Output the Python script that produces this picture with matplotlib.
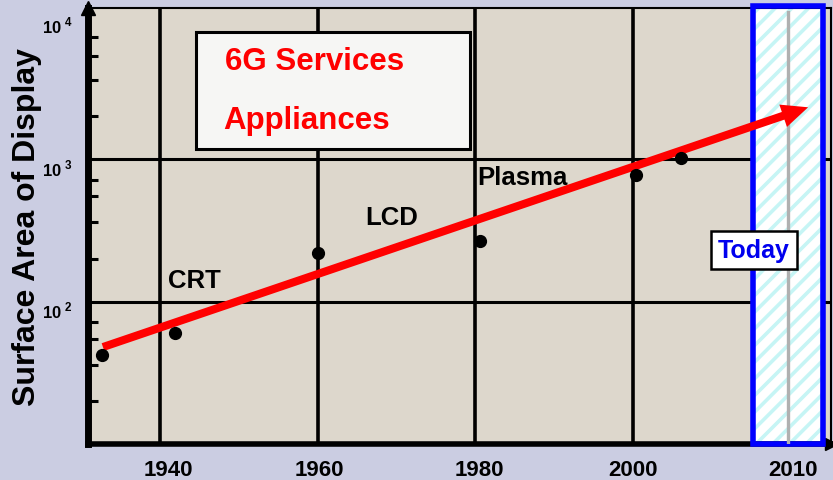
import matplotlib.pyplot as plt
from matplotlib.patches import Rectangle, FancyArrowPatch
from matplotlib.transforms import ScaledTranslation

plt.rcParams['font.family'] = ['Liberation Sans', 'DejaVu Sans']
plt.rcParams['font.weight'] = 'bold'
plt.rcParams['mathtext.fontset'] = 'custom'
plt.rcParams['mathtext.rm'] = 'Liberation Sans:bold'
plt.rcParams['mathtext.bf'] = 'Liberation Sans:bold'
plt.rcParams['hatch.linewidth'] = 2.6

# data
years = [1932.7, 1941.9, 1960.0, 1980.6, 2000.4, 2006.1]
area = [42, 60, 218, 265, 770, 1015]

grid_years = [1940, 1960, 1980, 2000]
xtick_pos = [1941.1, 1960.3, 1980.5, 2000.0, 2020.3]
xtick_labels = ['1940', '1960', '1980', '2000', '2010']

ytick_vals = [100, 1000, 10000]
ytick_labels = [r'$10^{\,\,2}$', r'$10^{\,\,3}$', r'$10^{\,\,4}$']
minor_vals = [20, 36, 55, 72, 200, 360, 550, 710, 2000, 3600, 5300, 7200]

trend_start = (1932.8, 48)
trend_end = (2022.2, 2320)

tech_labels = ['CRT', 'LCD', 'Plasma']
tech_x = [1941.0, 1966.0, 1980.3]
tech_y = [143, 391, 747]

today_span = (2015.2, 2024.1)
today_year = 2019.7

fig = plt.figure(figsize=(8.33, 4.81), dpi=100, facecolor='#cbcde2')
ax = fig.add_axes([0.1056, 0.0748, 0.892, 0.9065])
ax.set_facecolor('#ddd7cc')
ax.set_yscale('log')
ax.set_xlim(1930.9, 2025.1)
ax.set_ylim(10 ** 1.0, 10 ** 4.063)

# grid
for g in grid_years:
    ax.axvline(g, color='black', lw=2.6, zorder=1)
for v in [100, 1000]:
    ax.axhline(v, color='black', lw=2.2, zorder=1)

# spines
ax.spines['left'].set_linewidth(5)
ax.spines['bottom'].set_linewidth(4)
ax.spines['top'].set_linewidth(1.5)
ax.spines['right'].set_linewidth(1.5)
ax.plot([0], [1.0], marker='^', ms=10, color='black', transform=ax.transAxes, clip_on=False)
ax.plot([1.0], [0], marker='>', ms=8, color='black', transform=ax.transAxes, clip_on=False)

# ticks
ax.set_xticks(xtick_pos, xtick_labels)
ax.tick_params(axis='x', length=0, pad=11, labelsize=16)
ax.set_yticks(ytick_vals, ytick_labels)
ax.set_yticks(minor_vals, minor=True)
ax.yaxis.set_minor_formatter(plt.NullFormatter())
ax.tick_params(axis='y', which='major', length=0, pad=11, labelsize=12)
ax.tick_params(axis='y', which='minor', direction='in', length=7, width=2.2)
off = ScaledTranslation(0, -7 / 100, fig.dpi_scale_trans)
for lab in ax.get_yticklabels():
    lab.set_transform(lab.get_transform() + off)

ax.set_ylabel('Surface Area of Display', fontsize=23, fontweight='bold', labelpad=0)

# today band
ax.add_patch(Rectangle((today_span[0], 0), today_span[1] - today_span[0], 1.005,
                       transform=ax.get_xaxis_transform(), facecolor='white',
                       edgecolor='#c6f5f5', hatch='//', lw=0, zorder=2, clip_on=False))
ax.add_patch(Rectangle((today_span[0], 0), today_span[1] - today_span[0], 1.005,
                       transform=ax.get_xaxis_transform(), facecolor='none',
                       edgecolor='#0000ff', lw=4, zorder=3, clip_on=False))
ax.axvline(today_year, ymin=0, ymax=0.99, color='#b0b0b0', lw=2.4, zorder=3)
ax.text(2015.35, 232, 'Today', color='#0000ee', fontsize=18, fontweight='bold',
        ha='center', va='center', zorder=6,
        bbox=dict(boxstyle='square,pad=0.28', facecolor='white', edgecolor='black', lw=1.8))

# data points
ax.plot(years, area, 'o', color='black', ms=8.5, zorder=5)

# trend arrow
ax.add_patch(FancyArrowPatch(trend_start, trend_end,
                             arrowstyle='simple,head_length=0.95,head_width=0.85,tail_width=0.29',
                             mutation_scale=20, color='#ff0000', lw=0,
                             shrinkA=0, shrinkB=0, zorder=4))

# technology labels
for t, x, y in zip(tech_labels, tech_x, tech_y):
    ax.text(x, y, t, fontsize=18.5, fontweight='bold', ha='left', va='center', zorder=6)

# services box
ax.add_patch(Rectangle((0.1454, 0.6766), 0.3688, 0.2684, transform=ax.transAxes,
                       facecolor='#f6f6f4', edgecolor='black', lw=2.2, zorder=3))
ax.text(0.184, 0.878, '6G Services', color='#ff0000', fontsize=22.5, fontweight='bold',
        transform=ax.transAxes, ha='left', va='center', zorder=6)
ax.text(0.182, 0.743, 'Appliances', color='#ff0000', fontsize=22.5, fontweight='bold',
        transform=ax.transAxes, ha='left', va='center', zorder=6)

fig.savefig('out.png', dpi=100, facecolor=fig.get_facecolor())
